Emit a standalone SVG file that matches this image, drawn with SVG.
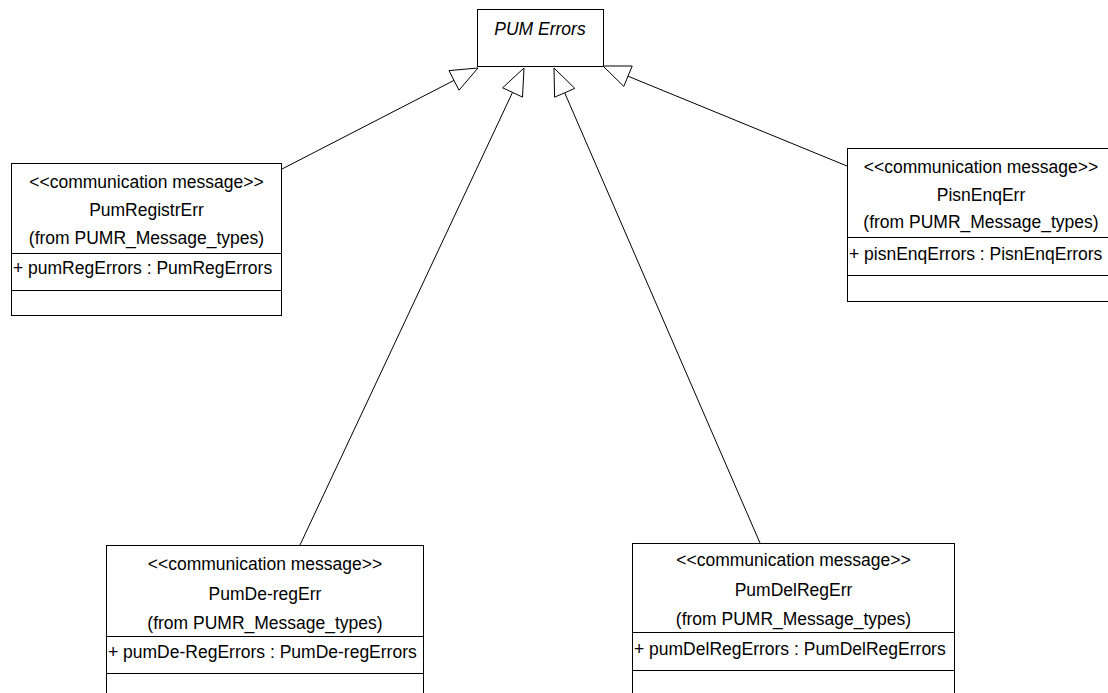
<svg xmlns="http://www.w3.org/2000/svg" width="1108" height="693" viewBox="0 0 1108 693">
<style>
.box{fill:#fff;stroke:#000;stroke-width:1}
.ln{stroke:#000;stroke-width:1;fill:none}
.head{fill:#fff;stroke:#000;stroke-width:1}
text{font-family:"Liberation Sans",Arial,sans-serif;font-size:17.5px;fill:#000}
.c{text-anchor:middle}
.i{font-style:italic}
</style>
<rect width="1108" height="693" fill="#fff"/>
<g id="connectors">
<line class="ln" x1="282" y1="169" x2="454" y2="80.4"/>
<polygon class="head" points="478,68 459,90.2 449,70.6"/>
<line class="ln" x1="300" y1="545" x2="512.5" y2="92.4"/>
<polygon class="head" points="524,68 522.5,97.1 502.6,87.8"/>
<line class="ln" x1="760" y1="543" x2="564.7" y2="92.8"/>
<polygon class="head" points="554,68 574.8,88.4 554.6,97.2"/>
<line class="ln" x1="847" y1="166" x2="628" y2="76.2"/>
<polygon class="head" points="603,66 632.2,66 623.8,86.4"/>
</g>
<g id="pum-errors">
<rect class="box" x="477.5" y="9.5" width="126" height="57"/>
<text class="c i" x="540" y="34.5">PUM Errors</text>
</g>
<g id="pum-registr-err">
<rect class="box" x="11.5" y="163.5" width="270" height="152"/>
<line class="ln" x1="11.5" y1="253.5" x2="281.5" y2="253.5"/>
<line class="ln" x1="11.5" y1="290.5" x2="281.5" y2="290.5"/>
<text class="c" x="146.5" y="188">&lt;&lt;communication message&gt;&gt;</text>
<text class="c" x="146.5" y="216">PumRegistrErr</text>
<text class="c" x="146.5" y="244">(from PUMR_Message_types)</text>
<text x="13" y="274">+ pumRegErrors : PumRegErrors</text>
</g>
<g id="pisn-enq-err">
<rect class="box" x="847.5" y="148.5" width="268" height="153"/>
<line class="ln" x1="847.5" y1="237.5" x2="1115.5" y2="237.5"/>
<line class="ln" x1="847.5" y1="275.5" x2="1115.5" y2="275.5"/>
<text class="c" x="981" y="173">&lt;&lt;communication message&gt;&gt;</text>
<text class="c" x="981" y="201">PisnEnqErr</text>
<text class="c" x="981" y="228">(from PUMR_Message_types)</text>
<text x="849" y="259.5">+ pisnEnqErrors : PisnEnqErrors</text>
</g>
<g id="pum-de-reg-err">
<rect class="box" x="106.5" y="545.5" width="317" height="160"/>
<line class="ln" x1="106.5" y1="636.5" x2="423.5" y2="636.5"/>
<line class="ln" x1="106.5" y1="673.5" x2="423.5" y2="673.5"/>
<text class="c" x="265" y="569.5">&lt;&lt;communication message&gt;&gt;</text>
<text class="c" x="265" y="599.5">PumDe-regErr</text>
<text class="c" x="265" y="628.5">(from PUMR_Message_types)</text>
<text x="108" y="658">+ pumDe-RegErrors : PumDe-regErrors</text>
</g>
<g id="pum-del-reg-err">
<rect class="box" x="632.5" y="543.5" width="322" height="160"/>
<line class="ln" x1="632.5" y1="632.5" x2="954.5" y2="632.5"/>
<line class="ln" x1="632.5" y1="670.5" x2="954.5" y2="670.5"/>
<text class="c" x="793.5" y="566">&lt;&lt;communication message&gt;&gt;</text>
<text class="c" x="793.5" y="595.5">PumDelRegErr</text>
<text class="c" x="793.5" y="624.5">(from PUMR_Message_types)</text>
<text x="634" y="654.5">+ pumDelRegErrors : PumDelRegErrors</text>
</g>
</svg>
